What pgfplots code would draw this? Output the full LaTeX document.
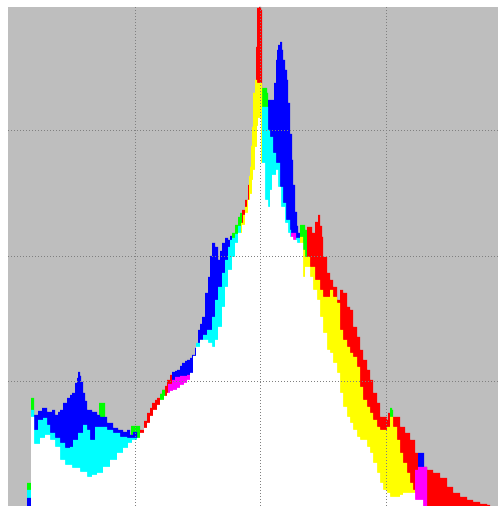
\documentclass[border=0pt]{standalone}
\usepackage{pgfplots}
\pgfplotsset{compat=1.18}
\definecolor{bg}{RGB}{190,190,190}
\definecolor{gridc}{RGB}{128,128,128}
\definecolor{cc}{RGB}{0,255,255}
\definecolor{mm}{RGB}{255,0,255}
\definecolor{gg}{RGB}{0,255,0}
\definecolor{yy}{RGB}{255,255,0}
\definecolor{rr}{RGB}{255,0,0}
\definecolor{bb}{RGB}{0,0,255}
\begin{document}
\begin{tikzpicture}
\useasboundingbox (0,0) rectangle (501bp,506bp);
\fill[white] (0,0) rectangle (501bp,506bp);
\begin{axis}[at={(8bp,0bp)}, anchor=south west, width=490bp, height=499bp, scale only axis,
  xmin=8, xmax=498, ymin=0, ymax=499,
  axis background/.style={fill=bg}, axis line style={draw=none},
  xtick={135,260,386}, ytick={124,249,375}, xticklabels={}, yticklabels={},
  major tick length=0pt, grid=major,
  major grid style={gridc, line width=1bp, dash pattern=on 1bp off 2bp},
  axis on top,
  every axis plot/.append style={const plot, draw=none}]
% ---- top layer ----
\addplot[fill=gg] coordinates {(27,23) (31,23)} \closedcycle;
\addplot[fill=gg] coordinates {(31,108) (34,108)} \closedcycle;
\addplot[fill=gg] coordinates {(99,103) (105,103)} \closedcycle;
\addplot[fill=gg] coordinates {(131,80) (140,80)} \closedcycle;
\addplot[fill=bb] coordinates {(34,91) (38,95) (42,98) (47,94) (52,96) (55,91) (58,94) (60,96) (63,103) (67,108) (70,111) (72,113) (75,123) (77,128) (78,134) (80,130) (81,124) (83,113) (85,105) (87,96) (92,94) (97,91) (100,89) (103,89) (107,83) (113,78) (118,76) (123,74) (127,76) (130,71) (133,74) (137,74)} \closedcycle;
\addplot[fill=rr] coordinates {(140,76) (144,85) (147,93) (150,98) (152,103) (155,106) (157,108) (160,112) (162,116) (165,120) (167,126) (170,131) (172,131)} \closedcycle;
\addplot[fill=gg] coordinates {(160,112) (162,116) (165,116)} \closedcycle;
\addplot[fill=bb] coordinates {(172,134) (175,135) (177,136) (180,140) (182,143) (185,145) (187,146) (190,148) (192,151) (195,158) (198,176) (200,182) (202,189) (205,213) (208,229) (210,250) (212,263) (215,259) (218,246) (220,255) (222,263) (225,268) (228,266) (230,270) (232,270)} \closedcycle;
\addplot[fill=gg] coordinates {(232,273) (235,281) (238,289) (240,293) (242,293)} \closedcycle;
\addplot[fill=rr] coordinates {(242,296) (245,306) (248,321) (249,321)} \closedcycle;
\addplot[fill=yy] coordinates {(249,330) (250,339) (251,360) (252,379) (253,413) (255,426) (256,426)} \closedcycle;
\addplot[fill=rr] coordinates {(256,459) (257,498) (259,499) (261,496) (262,496)} \closedcycle;
\addplot[fill=gg] coordinates {(262,418) (265,418) (267,413) (268,413)} \closedcycle;
\addplot[fill=bb] coordinates {(268,406) (272,406) (274,423) (276,446) (277,456) (278,461) (280,464) (282,456) (283,446) (285,436) (287,426) (288,403) (290,372) (292,346) (293,321) (295,294) (297,280) (298,273) (300,273)} \closedcycle;
\addplot[fill=gg] coordinates {(300,281) (305,276) (307,276)} \closedcycle;
\addplot[fill=rr] coordinates {(307,279) (310,279) (312,273) (315,284) (318,291) (320,280) (322,269) (323,249) (327,233) (330,226) (333,219) (337,206) (340,216) (343,213) (347,199) (350,196) (353,179) (357,169) (360,156) (363,146) (367,136) (370,126) (373,113) (377,103) (380,89) (383,89) (387,86) (388,93) (390,93)} \closedcycle;
\addplot[fill=gg] coordinates {(390,98) (392,96) (393,96)} \closedcycle;
\addplot[fill=rr] coordinates {(393,89) (395,89) (400,79) (405,73) (410,66) (415,53) (418,43)} \closedcycle;
\addplot[fill=bb] coordinates {(418,53) (424,53)} \closedcycle;
\addplot[fill=rr] coordinates {(424,39) (427,36) (433,33) (440,28) (447,19) (453,13) (460,9) (467,6) (473,4) (480,2) (487,1) (490,1)} \closedcycle;
% ---- middle layer ----
\addplot[fill=cc] coordinates {(27,16) (31,16)} \closedcycle;
\addplot[fill=cc] coordinates {(31,96) (34,96)} \closedcycle;
\addplot[fill=cc] coordinates {(34,76) (38,86) (43,88) (47,81) (50,73) (55,68) (60,63) (65,58) (70,59) (73,66) (78,73) (83,81) (87,76) (90,66) (95,79) (100,79) (107,76) (113,73) (120,69) (127,68) (132,68) (137,68)} \closedcycle;
\addplot[fill=mm] coordinates {(168,122) (172,126) (175,129) (180,130) (187,131) (190,131)} \closedcycle;
\addplot[fill=cc] coordinates {(196,163) (200,166) (203,171) (207,176) (212,189) (215,206) (218,219) (222,233) (225,246) (228,259) (230,266) (232,268) (235,272) (238,280) (241,280)} \closedcycle;
\addplot[fill=yy] coordinates {(241,283) (243,291) (245,299) (247,306) (249,321) (250,339) (251,360) (252,379) (253,413) (255,426) (257,423) (262,423)} \closedcycle;
\addplot[fill=cc] coordinates {(262,399) (268,376) (270,369) (273,353) (276,343) (280,319) (283,303) (286,286) (290,276) (291,276)} \closedcycle;
\addplot[fill=mm] coordinates {(291,273) (296,273)} \closedcycle;
\addplot[fill=cc] coordinates {(296,268) (300,268)} \closedcycle;
\addplot[fill=yy] coordinates {(300,269) (303,256) (305,249) (310,239) (315,226) (320,216) (323,209) (327,209) (330,216) (333,209) (337,203) (340,176) (343,166) (347,159) (350,153) (353,149) (357,139) (360,119) (363,106) (367,99) (370,93) (373,86) (377,79) (380,76) (385,76) (387,79) (390,89) (393,79) (397,66) (400,53) (403,43) (407,33) (410,23) (413,16) (415,16)} \closedcycle;
\addplot[fill=mm] coordinates {(415,36) (418,39) (427,39)} \closedcycle;
% ---- bottom layer ----
\addplot[fill=bb] coordinates {(27,8) (31,8)} \closedcycle;
\addplot[fill=white] coordinates {(31,89) (34,62) (40,68) (45,71) (50,66) (55,59) (60,46) (65,41) (72,38) (80,34) (87,29) (92,31) (97,33) (103,39) (110,46) (117,53) (123,58) (128,63) (132,66) (137,68) (140,73) (144,78) (147,83) (150,90) (153,96) (157,101) (160,106) (164,110) (167,113) (170,115) (173,116) (177,118) (180,121) (184,123) (187,126) (190,133) (193,150) (196,159) (200,166) (205,166) (208,163) (212,159) (215,166) (218,179) (222,199) (225,219) (228,236) (232,249) (235,263) (238,273) (242,281) (245,293) (248,306) (250,312) (252,326) (253,336) (255,359) (257,380) (258,388) (261,343) (265,306) (268,299) (270,316) (272,331) (276,336) (278,319) (281,299) (285,283) (288,273) (290,269) (293,266) (297,263) (300,263) (303,229) (305,239) (310,229) (313,216) (317,206) (320,189) (323,173) (327,156) (330,153) (333,143) (337,133) (340,113) (343,99) (347,89) (350,83) (353,76) (357,69) (360,66) (363,66) (367,59) (370,53) (373,43) (377,33) (380,23) (383,16) (387,13) (390,9) (397,9) (400,11) (403,13) (410,13) (415,6) (423,6)} \closedcycle;
\end{axis}
\end{tikzpicture}
\end{document}
